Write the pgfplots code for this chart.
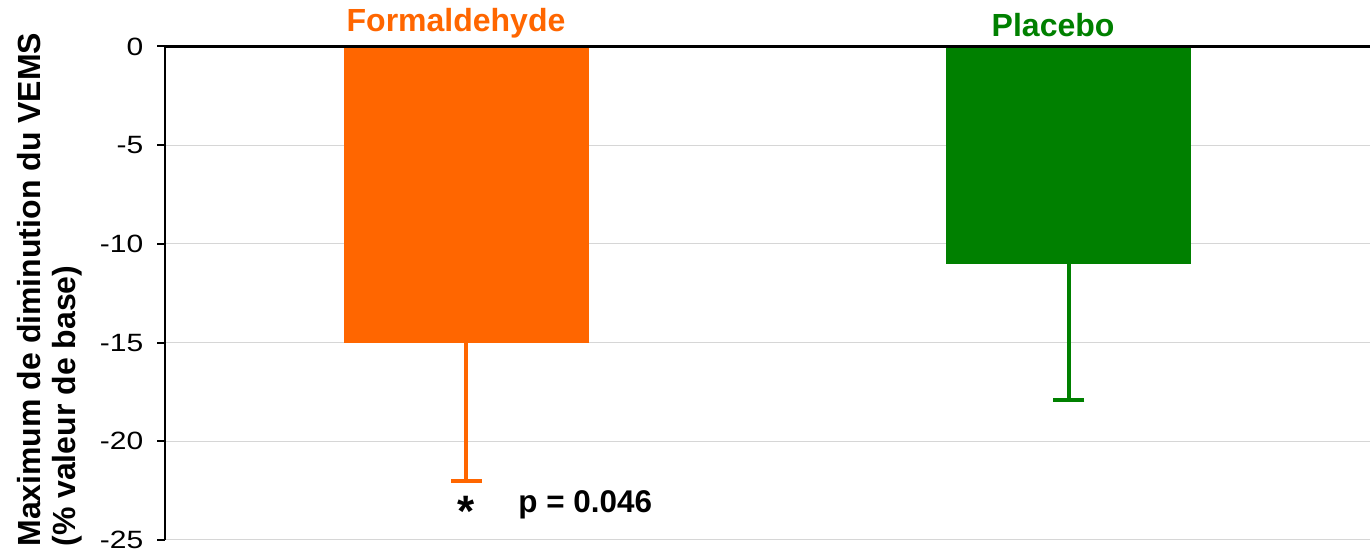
\documentclass[border=0pt]{standalone}
\usepackage{pgfplots}
\pgfplotsset{compat=1.18}
\usepackage{fontspec}
\setmainfont{Liberation Sans}
\newfontfamily\tickfont[FakeStretch=1.2]{Liberation Sans}
\definecolor{forange}{HTML}{FF6600}
\definecolor{pgreen}{HTML}{008000}
\begin{document}
\begin{tikzpicture}
\begin{axis}[
  at={(0,0)}, anchor=south west,
  scale only axis,
  width=602.5pt, height=246.75pt,
  xmin=-0.5, xmax=1.5, ymin=-25, ymax=0,
  axis x line=none,
  axis y line=left,
  y axis line style={-, black, line width=1pt},
  ytick={-25,-20,-15,-10,-5,0},
  yticklabels={-25,-20,-15,-10,-5,0},
  yticklabel style={font=\tickfont\fontsize{12.5}{14}\selectfont, xshift=-3.3pt},
  tick align=outside, major tick length=4pt,
  ytick style={black, line width=1pt},
  ymajorgrids, grid style={draw=black!16, line width=0.5pt},
  ybar, bar width=0.407, bar shift=0pt,
  clip=false,
]
\addplot[fill=forange, draw=none,
  error bars/.cd, y dir=minus, y explicit, error mark=|,
  error bar style={forange, line width=1.9pt},
  error mark options={forange, line width=1.9pt, mark size=7.75pt}]
  coordinates {(0,-15) -= (0,7)};
\addplot[fill=pgreen, draw=none,
  error bars/.cd, y dir=minus, y explicit, error mark=|,
  error bar style={pgreen, line width=1.9pt},
  error mark options={pgreen, line width=1.9pt, mark size=7.75pt}]
  coordinates {(1,-11) -= (0,6.9)};
\draw[black, line width=1.1pt] (axis cs:-0.5,0) -- (axis cs:1.5,0);
\node[font=\bfseries\fontsize{16}{18}\selectfont, text=forange, anchor=base, yshift=7.25pt] at (axis cs:-0.017,0) {Formaldehyde};
\node[font=\bfseries\fontsize{16}{18}\selectfont, text=pgreen, anchor=base, yshift=4.75pt] at (axis cs:0.974,0) {Placebo};
\node[font=\bfseries\fontsize{22}{22}\selectfont, anchor=base] at (axis cs:0,-24.33) {*};
\node[font=\bfseries\fontsize{15.7}{18}\selectfont, anchor=base west, inner sep=0pt] at (axis cs:0.086,-23.62) {p = 0.046};
\end{axis}
\node[rotate=90, anchor=north west, align=left, inner sep=0pt, font=\bfseries\fontsize{16}{17.5}\selectfont] at (-74pt,-3.5pt) {Maximum de diminution du VEMS\\(\% valeur de base)};
\pgfresetboundingbox
\useasboundingbox (-82.5pt,-4.5pt) rectangle (602.5pt,270pt);
\end{tikzpicture}
\end{document}
